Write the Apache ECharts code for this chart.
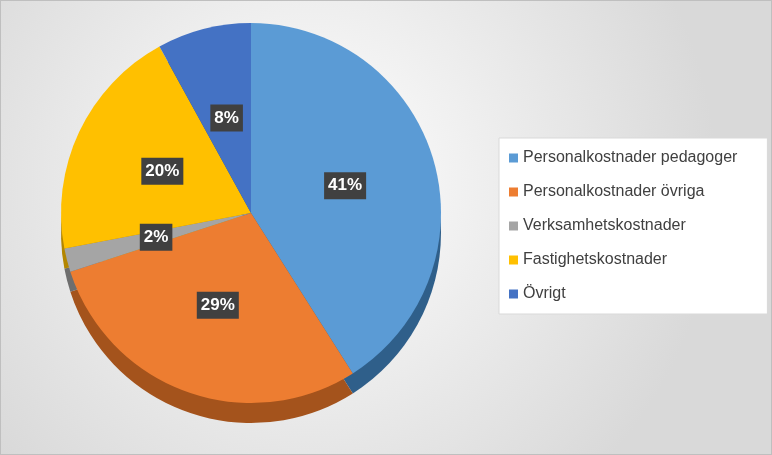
<!DOCTYPE html>
<html><head><meta charset="utf-8">
<script src="https://cdn.jsdelivr.net/npm/echarts@6/dist/echarts.min.js"></script>
<style>html,body{margin:0;padding:0}#c{width:772px;height:455px;box-sizing:border-box;border:1px solid #bfbfbf}</style>
</head><body><div id="c"></div>
<script>
const categories = ["Personalkostnader pedagoger","Personalkostnader övriga","Verksamhetskostnader","Fastighetskostnader","Övrigt"];
const values = [41, 29, 2, 20, 8];
const colors = ["#5B9BD5","#ED7D31","#A5A5A5","#FFC000","#4472C4"];
const darker = ["#2F5F8A","#A4531C","#6E6E6E","#B38600","#2B4C87"];
const chart = echarts.init(document.getElementById('c'));
const data = categories.map((n,i)=>({name:n,value:values[i],itemStyle:{color:colors[i]}}));
const side = categories.map((n,i)=>({name:n+' ',value:values[i],itemStyle:{color:darker[i]}}));
chart.setOption({
  backgroundColor:{type:'radial',x:0.4,y:0.4,r:0.9,colorStops:[{offset:0,color:'#ffffff'},{offset:1,color:'#d9d9d9'}]},
  legend:{orient:'vertical',left:498,top:137,width:260,data:categories,backgroundColor:'#fff',borderColor:'#d9d9d9',borderWidth:1,
    padding:[12,30,12,10],itemGap:18,icon:'rect',itemWidth:9,itemHeight:9,textStyle:{fontFamily:'Liberation Sans',fontSize:16,color:'#404040'}},
  series:[
    {type:'pie',center:[250,232],radius:[0,190],startAngle:90,silent:true,label:{show:false},labelLine:{show:false},data:side,animation:false},
    {type:'pie',center:[250,212],radius:[0,190],startAngle:90,animation:false,
     label:{show:true,position:'inner',formatter:'{d}%',backgroundColor:'#404040',color:'#fff',fontWeight:'bold',fontSize:17,fontFamily:'Liberation Sans',padding:[5,4]},
     labelLine:{show:false},data:data}
  ]
});
</script></body></html>
